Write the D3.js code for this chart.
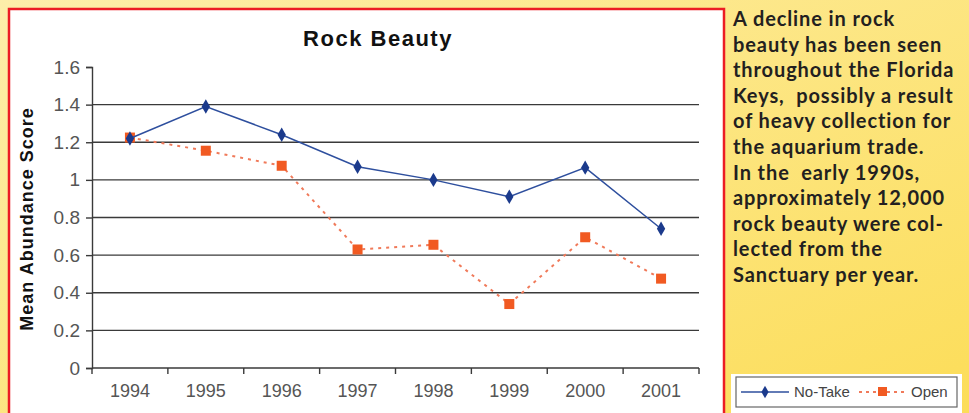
<!DOCTYPE html>
<html>
<head>
<meta charset="utf-8">
<script src="https://cdn.jsdelivr.net/npm/d3@7"></script>
<style>
  html, body { margin: 0; padding: 0; }
  body { width: 969px; height: 413px; overflow: hidden; }
</style>
</head>
<body>
<script>
// data
const years = ["1994", "1995", "1996", "1997", "1998", "1999", "2000", "2001"];
const noTake = [1.22, 1.39, 1.24, 1.07, 1.0, 0.91, 1.065, 0.74];
const open = [1.225, 1.155, 1.075, 0.63, 0.655, 0.34, 0.695, 0.475];
const yTicks = [0, 0.2, 0.4, 0.6, 0.8, 1, 1.2, 1.4, 1.6];
const gridTicks = [0.2, 0.4, 0.6, 0.8, 1, 1.2, 1.4];
const noteLines = [
  "A decline in rock",
  "beauty has been seen",
  "throughout the Florida",
  "Keys,  possibly a result",
  "of heavy collection for",
  "the aquarium trade.",
  "In the  early 1990s,",
  "approximately 12,000",
  "rock beauty were col-",
  "lected from the",
  "Sanctuary per year."
];

const W = 969, H = 413;
const svg = d3.select("body").append("svg").attr("width", W).attr("height", H);

// yellow page background
const grad = svg.append("defs").append("linearGradient")
  .attr("id", "bg").attr("x1", "0").attr("y1", "0").attr("x2", "1").attr("y2", "1");
grad.append("stop").attr("offset", "0%").attr("stop-color", "#fdeeaa");
grad.append("stop").attr("offset", "100%").attr("stop-color", "#fcdd58");
svg.append("rect").attr("width", W).attr("height", H).attr("fill", "url(#bg)");

// white chart panel with red border
svg.append("rect")
  .attr("x", 9).attr("y", 9).attr("width", 715).attr("height", 420)
  .attr("fill", "#fff").attr("stroke", "#ec1c24").attr("stroke-width", 2.5);

const x = d3.scaleBand().domain(years).range([92, 699]);
const y = d3.scaleLinear().domain([0, 1.6]).range([368, 67]);

// gridlines
svg.append("g").selectAll("line").data(gridTicks).enter().append("line")
  .attr("x1", 92).attr("x2", 699)
  .attr("y1", d => y(d)).attr("y2", d => y(d))
  .attr("stroke", "#3a3a3a").attr("stroke-width", 1.4);

// y axis
const yAxis = svg.append("g").attr("transform", "translate(92,0)")
  .call(d3.axisLeft(y).tickValues(yTicks).tickSize(6).tickPadding(6)
    .tickFormat(d => String(+d.toFixed(1))));
yAxis.select(".domain").attr("stroke", "#3a3a3a").attr("stroke-width", 1.4);
yAxis.selectAll(".tick line").attr("stroke", "#3a3a3a").attr("stroke-width", 1.4);
yAxis.selectAll("text").attr("font-family", "Liberation Sans, Arial, sans-serif")
  .attr("font-size", 19).attr("fill", "#555");

// x axis: labels centered in bands, ticks at band edges
const xAxis = svg.append("g").attr("transform", "translate(0,368)")
  .call(d3.axisBottom(x).tickSize(0).tickPadding(16));
xAxis.select(".domain").remove();
xAxis.append("line").attr("x1", 92).attr("x2", 699)
  .attr("stroke", "#3a3a3a").attr("stroke-width", 1.4);
xAxis.selectAll("line.edge").data(years.map(d => x(d)).concat([x.range()[1]]))
  .enter().append("line").attr("class", "edge")
  .attr("x1", d => d).attr("x2", d => d).attr("y1", 0).attr("y2", 6)
  .attr("stroke", "#3a3a3a").attr("stroke-width", 1.4);
xAxis.selectAll("text").attr("font-family", "Liberation Sans, Arial, sans-serif")
  .attr("font-size", 18).attr("fill", "#555");

// title and y label
svg.append("text").attr("x", 378).attr("y", 46).attr("text-anchor", "middle")
  .attr("font-family", "Liberation Sans, Arial, sans-serif").attr("font-weight", "bold")
  .attr("font-size", 22).attr("letter-spacing", 1.5).attr("fill", "#111").text("Rock Beauty");
svg.append("text").attr("transform", "translate(33,219) rotate(-90)")
  .attr("text-anchor", "middle")
  .attr("font-family", "Liberation Sans, Arial, sans-serif").attr("font-weight", "bold")
  .attr("font-size", 18).attr("letter-spacing", 1).attr("fill", "#111").text("Mean Abundance Score");

const cx = (d, i) => x(years[i]) + x.bandwidth() / 2;
const line = d3.line().x(cx).y(d => y(d));

// Open series (dotted orange)
svg.append("path").datum(open).attr("d", line).attr("fill", "none")
  .attr("stroke", "#f07a5a").attr("stroke-width", 2).attr("stroke-dasharray", "3,5");
svg.append("g").selectAll("rect").data(open).enter().append("rect")
  .attr("x", (d, i) => cx(d, i) - 5).attr("y", d => y(d) - 5)
  .attr("width", 10).attr("height", 10).attr("fill", "#f15a22");

// No-Take series (solid blue, diamonds)
svg.append("path").datum(noTake).attr("d", line).attr("fill", "none")
  .attr("stroke", "#2e4f9e").attr("stroke-width", 1.5);
svg.append("g").selectAll("path").data(noTake).enter().append("path")
  .attr("d", d3.symbol().type(d3.symbolDiamond).size(60))
  .attr("transform", (d, i) => `translate(${cx(d, i)},${y(d)})`)
  .attr("fill", "#1b3a8c");

// side note
svg.append("g").selectAll("text").data(noteLines).enter().append("text")
  .attr("x", 733).attr("y", (d, i) => 26 + i * 25.6)
  .attr("font-family", "Lato, sans-serif").attr("font-weight", "bold")
  .attr("font-size", 20).attr("letter-spacing", 0.9).attr("fill", "#231f20")
  .attr("xml:space", "preserve").style("white-space", "pre").text(d => d);

// legend
const lg = svg.append("g");
lg.append("rect").attr("x", 731).attr("y", 374).attr("width", 231).attr("height", 45).attr("fill", "#fff");
lg.append("rect").attr("x", 736).attr("y", 377).attr("width", 221).attr("height", 30)
  .attr("fill", "#fff").attr("stroke", "#666").attr("stroke-width", 1.2);
lg.append("line").attr("x1", 741).attr("x2", 789).attr("y1", 392).attr("y2", 392)
  .attr("stroke", "#2e4f9e").attr("stroke-width", 1.6);
lg.append("path").attr("d", d3.symbol().type(d3.symbolDiamond).size(45))
  .attr("transform", "translate(765,392)").attr("fill", "#1b3a8c");
lg.append("text").attr("x", 794).attr("y", 397).attr("font-family", "Liberation Sans, Arial, sans-serif")
  .attr("font-size", 15).attr("fill", "#444").text("No-Take");
lg.append("line").attr("x1", 859).attr("x2", 906).attr("y1", 392).attr("y2", 392)
  .attr("stroke", "#f07a5a").attr("stroke-width", 2).attr("stroke-dasharray", "3,4");
lg.append("rect").attr("x", 878).attr("y", 387).attr("width", 9).attr("height", 9).attr("fill", "#f15a22");
lg.append("text").attr("x", 911).attr("y", 397).attr("font-family", "Liberation Sans, Arial, sans-serif")
  .attr("font-size", 15).attr("fill", "#444").text("Open");
</script>
</body>
</html>
